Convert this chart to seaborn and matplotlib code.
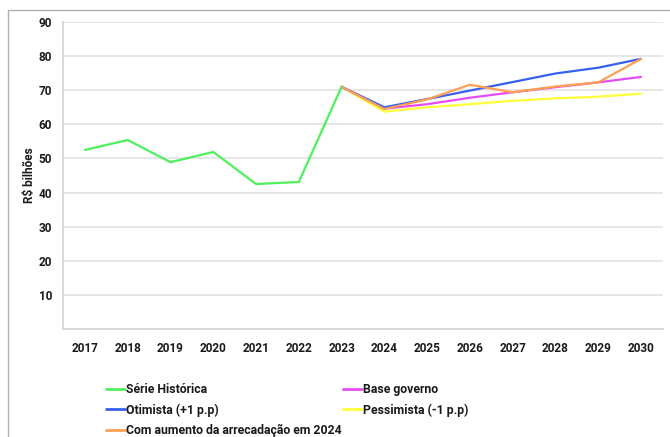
import matplotlib
matplotlib.use("Agg")
import matplotlib.pyplot as plt
import seaborn as sns
from matplotlib.lines import Line2D

sns.set_theme(style="white")
plt.rcParams['font.family'] = ['Roboto', 'DejaVu Sans']

hist_years = [2017, 2018, 2019, 2020, 2021, 2022, 2023]
hist_values = [52.5, 55.4, 48.9, 51.9, 42.5, 43.1, 71.0]

proj_years = [2023, 2024, 2025, 2026, 2027, 2028, 2029, 2030]
base_gov = [71.0, 64.6, 65.9, 67.8, 69.4, 70.9, 72.3, 73.9]
otimista = [71.0, 65.0, 67.4, 69.9, 72.4, 74.9, 76.6, 79.2]
pessimista = [71.0, 63.7, 65.0, 65.9, 66.9, 67.6, 68.1, 69.0]
com_aumento = [71.0, 64.5, 67.3, 71.6, 69.4, 71.1, 72.3, 79.2]

labels = ["Série Histórica", "Base governo", "Otimista (+1 p.p)",
          "Pessimista (-1 p.p)", "Com aumento da arrecadação em 2024"]
colors = {"Série Histórica": "#4ef05c", "Base governo": "#e64cf5",
          "Otimista (+1 p.p)": "#3560f0", "Pessimista (-1 p.p)": "#ffff3a",
          "Com aumento da arrecadação em 2024": "#ffa050"}
xticks = list(range(2017, 2031))
yticks = [10, 20, 30, 40, 50, 60, 70, 80, 90]

fig = plt.figure(figsize=(6.7, 4.37), dpi=100)
ax = fig.add_axes([63/670, 1-329/437, 600/670, 307/437])

lw = 1.6
sns.lineplot(x=proj_years, y=pessimista, ax=ax, color=colors[labels[3]], lw=lw, label=labels[3])
sns.lineplot(x=proj_years, y=base_gov, ax=ax, color=colors[labels[1]], lw=lw, label=labels[1])
sns.lineplot(x=proj_years, y=otimista, ax=ax, color=colors[labels[2]], lw=lw, label=labels[2])
sns.lineplot(x=proj_years, y=com_aumento, ax=ax, color=colors[labels[4]], lw=lw, label=labels[4])
sns.lineplot(x=hist_years, y=hist_values, ax=ax, color=colors[labels[0]], lw=lw, label=labels[0])

ax.set_xlim(2016.486, 2030.514)
ax.set_ylim(0, 90)
ax.set_xticks(xticks)
ax.set_xticklabels([str(x) for x in xticks])
ax.set_yticks(yticks)
ax.yaxis.grid(True, color="#e6e6e6", lw=1.4)
ax.xaxis.grid(False)
for s in ["top", "right"]:
    ax.spines[s].set_visible(False)
for s in ["left", "bottom"]:
    ax.spines[s].set_color("#d9d9d9")
    ax.spines[s].set_linewidth(1.4)
ax.tick_params(axis="both", length=0, labelsize=8.5, colors="#1a1a1a")
ax.tick_params(axis="y", pad=8)
ax.tick_params(axis="x", pad=9)
for t in ax.get_xticklabels() + ax.get_yticklabels():
    t.set_fontweight("bold")
ax.set_xlabel("")
ax.set_ylabel("R$ bilhões", fontsize=8.5, fontweight="bold", color="#1a1a1a", labelpad=2)

ax.get_legend().remove()
order = [labels[0], labels[2], labels[4], labels[1], labels[3]]
handles = [Line2D([0], [0], color=colors[l], lw=2) for l in order]
leg = fig.legend(handles, order, loc="upper left", bbox_to_anchor=(106/670, 1-383/437),
                 ncol=2, frameon=False, fontsize=8.8, handlelength=1.55, handletextpad=0.1,
                 columnspacing=0.1, labelspacing=0.6, borderpad=0, borderaxespad=0)
for t in leg.get_texts():
    t.set_fontweight("bold")
    t.set_color("#1a1a1a")

fig.add_artist(Line2D([8/670, 8/670], [0, 1-10/437], color="#b0b0b0", lw=1, transform=fig.transFigure))
fig.add_artist(Line2D([8/670, 1], [1-10/437, 1-10/437], color="#b0b0b0", lw=1, transform=fig.transFigure))

fig.savefig("out.png", dpi=100)
